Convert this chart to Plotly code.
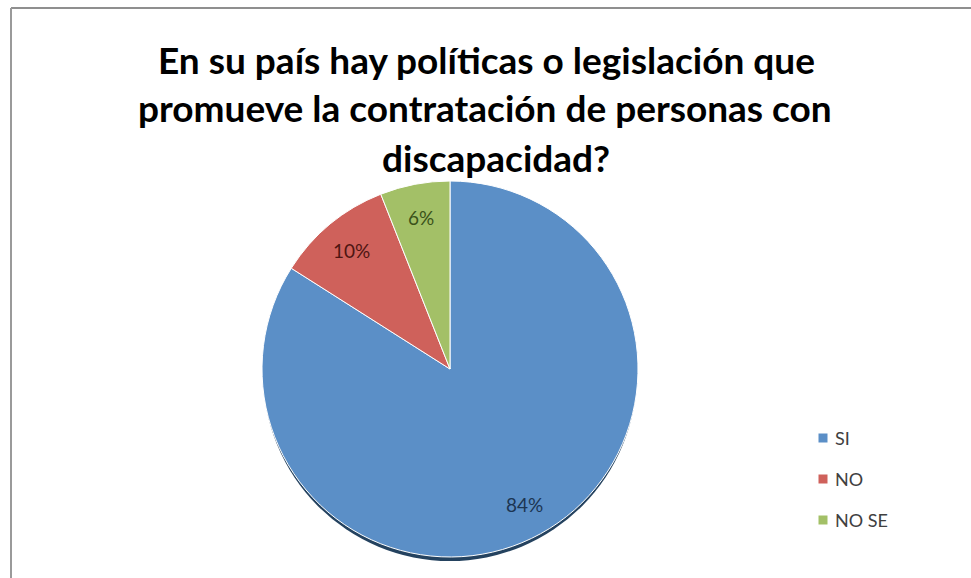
import math
import plotly.graph_objects as go

# Survey answers and their shares (%)
categories = ["SI", "NO", "NO SE"]
shares = [84, 10, 6]
slice_colors = ["#5b8fc7", "#cf615b", "#a3c067"]
label_colors = ["#1c3552", "#4e1512", "#3a521a"]

title_lines = [
    "En su país hay políticas o legislación que",
    "promueve la contratación de personas con",
    "discapacidad?",
]

W, H = 971, 578
FONT = "Lato"

# pie geometry in pixels
cx, cy, r = 450, 369, 188


def px_x(x):
    return x / W


def px_y(y):
    return 1 - y / H


fig = go.Figure()
fig.add_trace(
    go.Pie(
        labels=categories,
        values=shares,
        sort=False,
        direction="clockwise",
        rotation=0,
        marker=dict(colors=slice_colors, line=dict(color="#ffffff", width=1)),
        textinfo="none",
        showlegend=False,
        domain=dict(x=[px_x(cx - r), px_x(cx + r)], y=[px_y(cy + r), px_y(cy - r)]),
        hoverinfo="label+percent",
    )
)

shapes = [
    # drop shadow under the pie
    dict(
        type="circle", xref="paper", yref="paper", layer="below",
        x0=px_x(cx - r + 1), x1=px_x(cx + r - 1),
        y0=px_y(cy + r + 4), y1=px_y(cy - r + 4),
        fillcolor="#24425f", line=dict(width=0),
    ),
    # chart frame (top and left edges)
    dict(type="line", xref="paper", yref="paper", x0=px_x(11), x1=1, y0=px_y(8), y1=px_y(8),
         line=dict(color="#8f8f8f", width=2)),
    dict(type="line", xref="paper", yref="paper", x0=px_x(11), x1=px_x(11), y0=0, y1=px_y(8),
         line=dict(color="#9a9a9a", width=2)),
]

annotations = []
title_pos = [(487, 59), (485, 108), (496, 157)]
for line, (tx, ty) in zip(title_lines, title_pos):
    annotations.append(dict(
        text=line, xref="paper", yref="paper", x=px_x(tx), y=px_y(ty),
        xanchor="center", yanchor="middle", showarrow=False,
        font=dict(family=FONT, size=37, color="#000000", weight="bold"),
    ))

# percentage labels placed along each slice's middle angle (clockwise from 12 o'clock)
total = sum(shares)
start = 0.0
label_r = 0.82 * r
for val, col in zip(shares, label_colors):
    mid = 2 * math.pi * (start + val / 2) / total
    start += val
    lx = cx + label_r * math.sin(mid)
    ly = cy - label_r * math.cos(mid)
    annotations.append(dict(
        text=f"{round(100 * val / total)}%", xref="paper", yref="paper",
        x=px_x(lx), y=px_y(ly), xanchor="center", yanchor="middle", showarrow=False,
        font=dict(family=FONT, size=19, color=col),
    ))

# legend: colored square + category name
leg_x, leg_y0, leg_dy, sq = 823, 438, 41, 9
for i, (name, col) in enumerate(zip(categories, slice_colors)):
    yc = leg_y0 + i * leg_dy
    shapes.append(dict(
        type="rect", xref="paper", yref="paper",
        x0=px_x(leg_x - sq / 2), x1=px_x(leg_x + sq / 2),
        y0=px_y(yc + sq / 2), y1=px_y(yc - sq / 2),
        fillcolor=col, line=dict(width=0),
    ))
    annotations.append(dict(
        text=name, xref="paper", yref="paper", x=px_x(leg_x + 10), y=px_y(yc),
        xanchor="left", yanchor="middle", showarrow=False,
        font=dict(family=FONT, size=18, color="#404040"),
    ))

fig.update_layout(
    width=W, height=H,
    margin=dict(l=0, r=0, t=0, b=0),
    paper_bgcolor="#ffffff",
    plot_bgcolor="#ffffff",
    shapes=shapes,
    annotations=annotations,
)

fig.write_html("out.html")
